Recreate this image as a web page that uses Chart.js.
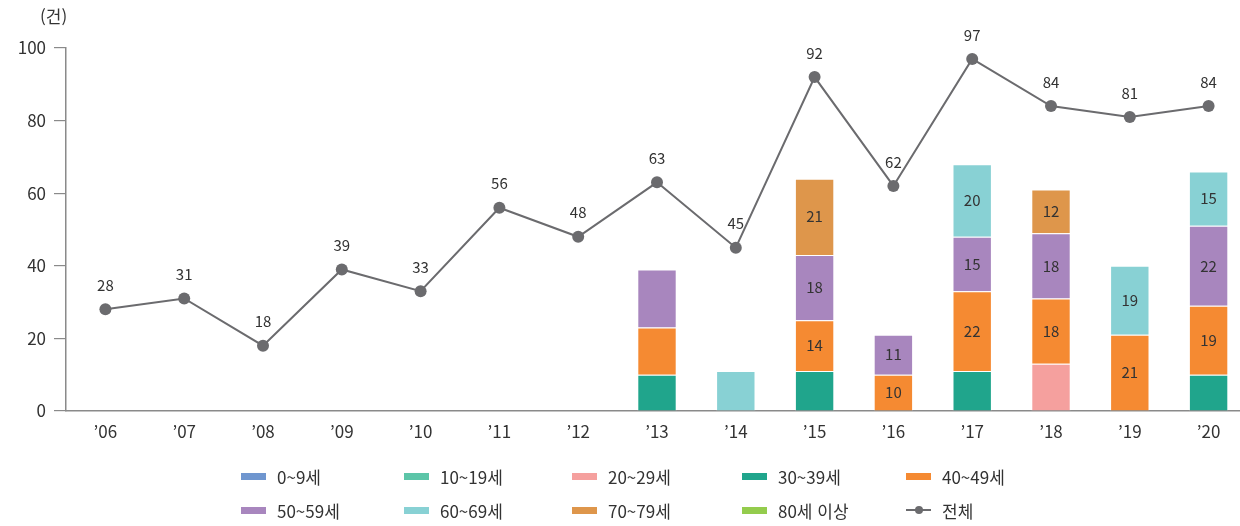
<!DOCTYPE html>
<html lang="ko">
<head>
<meta charset="utf-8">
<script src="https://cdn.jsdelivr.net/npm/chart.js@4.4.1/dist/chart.umd.min.js"></script>
<style>
    html, body { margin: 0; padding: 0; background: #fff; overflow: hidden; }
    #wrap { position: relative; width: 1240px; height: 526px; overflow: hidden; font-family: 'Noto Sans CJK KR', 'Noto Sans', sans-serif; color: #333; }
    #unit { position: absolute; left: 40px; top: 3px; font-size: 17px; color: #333; }
    #legend { position: absolute; left: 241px; top: 465px; display: grid; grid-template-columns: 163px 168px 170px 164px 166px; row-gap: 12px; }
    .item { display: flex; align-items: center; height: 22px; font-size: 17px; color: #333; }
    .sw { width: 25px; height: 7px; margin-right: 11px; }
    .sw-line { position: relative; width: 25px; height: 2px; margin-right: 11px; background: #6b6b6e; }
    .sw-line::after { content: ''; position: absolute; left: 9px; top: -3px; width: 8px; height: 8px; border-radius: 50%; background: #6b6b6e; }
</style>
</head>
<body>
<div id="wrap">
    <canvas id="chart" width="1254" height="526"></canvas>
    <div id="unit">(건)</div>
    <div id="legend"></div>
</div>
<script>
// 데이터
const years = ['\u201906', '\u201907', '\u201908', '\u201909', '\u201910', '\u201911', '\u201912',
    '\u201913', '\u201914', '\u201915', '\u201916', '\u201917', '\u201918', '\u201919', '\u201920'];
const ageGroups = ['0~9세', '10~19세', '20~29세', '30~39세', '40~49세', '50~59세', '60~69세', '70~79세', '80세 이상'];
const ageColors = ['#6f96cf', '#5cc5a8', '#f5a09e', '#20a58c', '#f58a32', '#a886be', '#88d1d4', '#de964b', '#94cc4d'];

const age0 =  [null, null, null, null, null, null, null, 0, 0, 0, 0, 0, 0, 0, 0];
const age10 = [null, null, null, null, null, null, null, 0, 0, 0, 0, 0, 0, 0, 0];
const age20 = [null, null, null, null, null, null, null, 0, 0, 0, 0, 0, 13, 0, 0];
const age30 = [null, null, null, null, null, null, null, 10, 0, 11, 0, 11, 0, 0, 10];
const age40 = [null, null, null, null, null, null, null, 13, 0, 14, 10, 22, 18, 21, 19];
const age50 = [null, null, null, null, null, null, null, 16, 0, 18, 11, 15, 18, 0, 22];
const age60 = [null, null, null, null, null, null, null, 0, 11, 0, 0, 20, 0, 19, 15];
const age70 = [null, null, null, null, null, null, null, 0, 0, 21, 0, 0, 12, 0, 0];
const age80 = [null, null, null, null, null, null, null, 0, 0, 0, 0, 0, 0, 0, 0];
const ageSeries = [age0, age10, age20, age30, age40, age50, age60, age70, age80];

const total = [28, 31, 18, 39, 33, 56, 48, 63, 45, 92, 62, 97, 84, 81, 84];
const totalLabel = '전체';

// 막대 안에 숫자를 적지 않는 칸
const noLabelAges = ['20~29세', '30~39세'];
const noLabelYears = ['\u201913', '\u201914'];

const yTicks = [0, 20, 40, 60, 80, 100];

const lineColor = '#6b6b6e';
const textColor = '#333333';
const fontFamily = "'Noto Sans CJK KR', 'Noto Sans', sans-serif";

Chart.defaults.font.family = fontFamily;
Chart.defaults.color = textColor;

// 값 라벨 플러그인
const valueLabels = {
    id: 'valueLabels',
    afterDatasetsDraw(chart) {
        const ctx = chart.ctx;
        ctx.save();
        ctx.font = '15px ' + fontFamily;
        ctx.fillStyle = textColor;
        ctx.textAlign = 'center';
        ctx.textBaseline = 'middle';
        chart.data.datasets.forEach((ds, di) => {
            const meta = chart.getDatasetMeta(di);
            if (meta.hidden) return;
            meta.data.forEach((el, i) => {
                const v = ds.data[i];
                if (!v) return;
                if (ds.type === 'line') {
                    ctx.fillText(v, el.x, el.y - 24);
                } else {
                    if (noLabelAges.includes(ds.label) || noLabelYears.includes(years[i])) return;
                    ctx.fillText(v, el.x, (el.y + el.base) / 2);
                }
            });
        });
        ctx.restore();
    }
};

const barSets = ageGroups.map((name, k) => ({
    type: 'bar',
    label: name,
    data: ageSeries[k],
    backgroundColor: ageColors[k],
    borderColor: 'rgba(255,255,255,0.55)',
    borderWidth: 1,
    borderSkipped: 'bottom',
    barPercentage: 0.5,
    categoryPercentage: 1,
    stack: 'age',
    order: 2
}));

new Chart(document.getElementById('chart'), {
    data: {
        labels: years,
        datasets: [
            {
                type: 'line',
                label: totalLabel,
                data: total,
                borderColor: lineColor,
                borderWidth: 2,
                tension: 0,
                pointRadius: 6,
                pointBackgroundColor: lineColor,
                pointBorderColor: lineColor,
                pointBorderWidth: 0,
                order: 1
            },
            ...barSets
        ]
    },
    options: {
        responsive: false,
        animation: false,
        layout: { padding: { top: 48, right: 0, bottom: 81, left: 0 } },
        plugins: {
            legend: { display: false },
            tooltip: { enabled: false }
        },
        scales: {
            x: {
                stacked: true,
                offset: true,
                grid: { display: false },
                border: { display: true, color: '#8a8a8a', width: 1.5 },
                ticks: { color: textColor, font: { size: 17 }, padding: 2, maxRotation: 0 },
                afterFit: (scale) => { scale.height = 34; }
            },
            y: {
                stacked: true,
                min: 0,
                max: 100,
                afterBuildTicks: (scale) => { scale.ticks = yTicks.map(v => ({ value: v })); },
                grid: { drawOnChartArea: false, color: '#8a8a8a', tickLength: 12, lineWidth: 1.2 },
                border: { display: true, color: '#8a8a8a', width: 1.5 },
                ticks: { color: textColor, font: { size: 17 }, padding: 8 },
                afterFit: (scale) => { scale.width = 66; }
            }
        }
    },
    plugins: [valueLabels]
});

// HTML 범례
const legendEl = document.getElementById('legend');
ageGroups.concat([totalLabel]).forEach((name, k) => {
    const item = document.createElement('div');
    item.className = 'item';
    const sw = document.createElement('span');
    if (k < ageGroups.length) {
        sw.className = 'sw';
        sw.style.background = ageColors[k];
    } else {
        sw.className = 'sw-line';
    }
    item.appendChild(sw);
    item.appendChild(document.createTextNode(name));
    legendEl.appendChild(item);
});
</script>
</body>
</html>
